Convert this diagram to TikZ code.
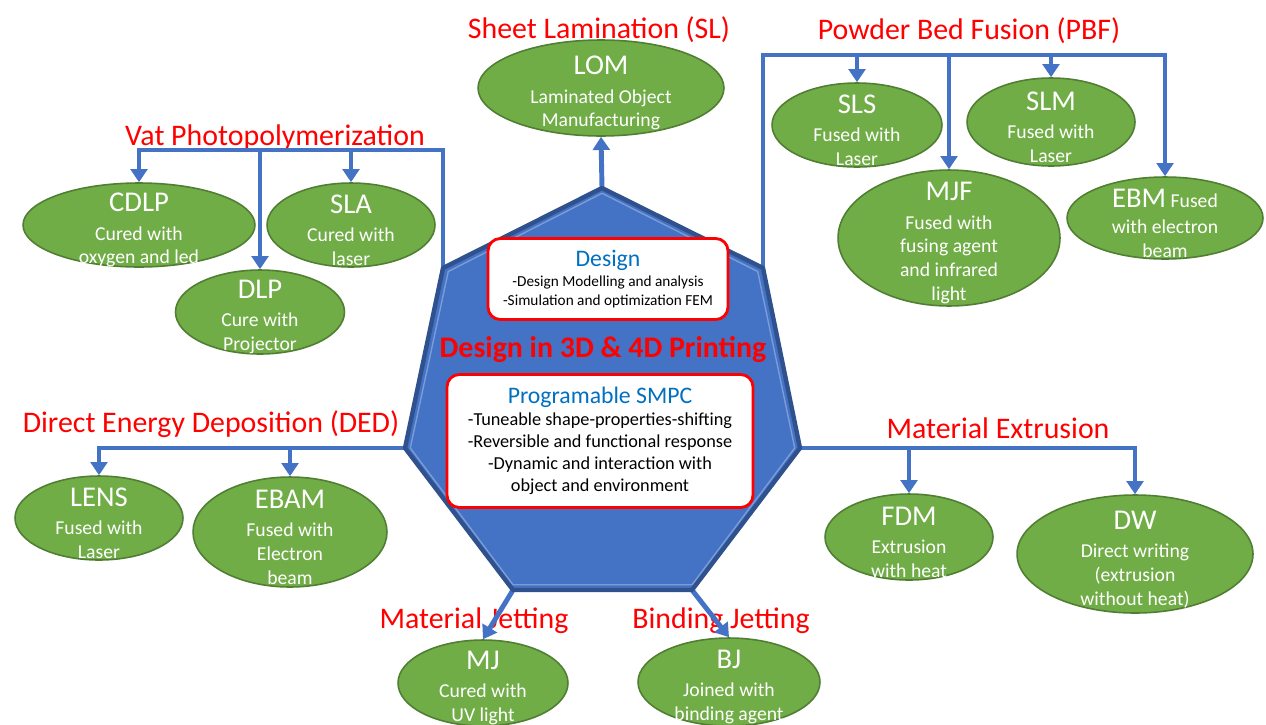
\documentclass[tikz,border=0pt]{standalone}
\usepackage{fontspec}
\setmainfont{Carlito}
\usetikzlibrary{arrows.meta,shapes.geometric,positioning}

\definecolor{hexblue}{RGB}{68,114,196}
\definecolor{hexedge}{RGB}{47,82,143}
\definecolor{leafgreen}{RGB}{112,173,71}
\definecolor{leafedge}{RGB}{80,126,50}
\definecolor{headblue}{RGB}{0,112,192}

\tikzset{
  tech/.style={ellipse, draw=leafedge, line width=0.9pt, fill=leafgreen, inner sep=0pt},
  techtext/.style={text=white, align=center, yshift=-3pt, font=\fontsize{11.2}{13.6}\selectfont},
  family/.style={text=red, font=\fontsize{17}{20}\selectfont, anchor=base},
  link/.style={draw=hexblue, line width=2.8pt},
  feed/.style={link, -{Triangle[width=9.5pt,length=7.5pt]}},
  infobox/.style={draw=red, line width=1.6pt, fill=white, rounded corners=7pt, align=center, inner sep=2pt},
}
\newcommand{\techname}[1]{{\fontsize{16.3}{18}\selectfont #1}\\[2.5pt]}

\begin{document}
\begin{tikzpicture}[x=0.02cm, y=-0.02cm]
  \useasboundingbox (0,0) rectangle (1266,724);
  \clip (0,0) rectangle (1266,724);

  % corners of the central heptagon
  \coordinate (hT) at (602,188);
  \coordinate (hUL) at (443,268);
  \coordinate (hUR) at (763,268);
  \coordinate (hL) at (405,448);
  \coordinate (hR) at (800,448);
  \coordinate (hBL) at (513,590);
  \coordinate (hBR) at (692,590);
  \coordinate (vatbar) at (443,150);
  \coordinate (pbfbar) at (763,55);

  % process families
  \node[family] (sltitle) at (599,38) {Sheet Lamination (SL)};
  \node[family] (vattitle) at (275,145) {Vat Photopolymerization};
  \node[family] (pbftitle) at (969,39) {Powder Bed Fusion (PBF)};
  \node[family] (dedtitle) at (211,432) {Direct Energy Deposition (DED)};
  \node[family] (metitle) at (998,438) {Material Extrusion};
  \node[family] (mjtitle) at (474,628) {Material Jetting};
  \node[family] (bjtitle) at (721,628) {Binding Jetting};

  % technologies
  \node[tech, minimum width=4.92cm, minimum height=1.92cm] (lom) at (601,88) {};
  \node[tech, minimum width=4.64cm, minimum height=1.68cm] (cdlp) at (139,225) {};
  \node[tech, minimum width=3.36cm, minimum height=1.68cm] (sla) at (351,225) {};
  \node[tech, minimum width=3.38cm, minimum height=1.68cm] (dlp) at (260,312) {};
  \node[tech, minimum width=3.40cm, minimum height=1.68cm] (sls) at (857,125) {};
  \node[tech, minimum width=3.36cm, minimum height=1.76cm] (slm) at (1051,122) {};
  \node[tech, minimum width=4.44cm, minimum height=2.72cm] (mjf) at (949,238) {};
  \node[tech, minimum width=3.92cm, minimum height=1.64cm] (ebm) at (1165,218) {};
  \node[tech, minimum width=3.36cm, minimum height=1.68cm] (lens) at (99,518) {};
  \node[tech, minimum width=3.88cm, minimum height=2.20cm] (ebam) at (290,532) {};
  \node[tech, minimum width=3.36cm, minimum height=1.72cm] (fdm) at (909,537) {};
  \node[tech, minimum width=4.72cm, minimum height=2.36cm] (dw) at (1135,554) {};
  \node[tech, minimum width=3.40cm, minimum height=1.72cm] (mj) at (483,683) {};
  \node[tech, minimum width=3.64cm, minimum height=1.76cm] (bj) at (729,682) {};

  \node[techtext] (lomtxt) at (lom) {\techname{LOM}Laminated Object\\Manufacturing};
  \node[techtext] (cdlptxt) at (cdlp) {\techname{CDLP}Cured with\\oxygen and led};
  \node[techtext] (slatxt) at (sla) {\techname{SLA}Cured with\\laser};
  \node[techtext] (dlptxt) at (dlp) {\techname{DLP}Cure with\\Projector};
  \node[techtext] (slstxt) at (sls) {\techname{SLS}Fused with\\Laser};
  \node[techtext] (slmtxt) at (slm) {\techname{SLM}Fused with\\Laser};
  \node[techtext] (mjftxt) at (mjf) {\techname{MJF}Fused with\\fusing agent\\and infrared\\light};
  \node[techtext] (ebmtxt) at (ebm) {{\fontsize{16.3}{18}\selectfont EBM} Fused\\[1pt]with electron\\beam};
  \node[techtext] (lenstxt) at (lens) {\techname{LENS}Fused with\\Laser};
  \node[techtext] (ebamtxt) at (ebam) {\techname{EBAM}Fused with\\Electron\\beam};
  \node[techtext] (fdmtxt) at (fdm) {\techname{FDM}Extrusion\\with heat};
  \node[techtext] (dwtxt) at (dw) {\techname{DW}Direct writing\\(extrusion\\without heat)};
  \node[techtext] (mjtxt) at (mj) {\techname{MJ}Cured with\\UV light};
  \node[techtext] (bjtxt) at (bj) {\techname{BJ}Joined with\\binding agent};

  % connectors
  \draw[feed] (hT) -- (lom.south);
  \draw[feed] (hUL) -- (vatbar) -| (cdlp.north);
  \draw[feed] (vatbar -| dlp.north) -- (dlp.north);
  \draw[feed] (vatbar -| sla.north) -- (sla.north);
  \draw[feed] (hUR) -- (pbfbar) -| (ebm.north);
  \draw[feed] (pbfbar -| sls.north) -- (sls.north);
  \draw[feed] (pbfbar -| mjf.north) -- (mjf.north);
  \draw[feed] (pbfbar -| slm.north) -- (slm.north);
  \draw[feed] (hL) -| (lens.north);
  \draw[feed] (hL -| ebam.north) -- (ebam.north);
  \draw[feed] (hR) -| (dw.north);
  \draw[feed] (hR -| fdm.north) -- (fdm.north);
  \draw[feed] (hBL) -- (mj.north);
  \draw[feed] (hBR) -- (bj.north);

  % central heptagon
  \filldraw[fill=hexblue, draw=hexedge, line width=2.5pt, line join=round]
    (hT) -- (hUR) -- (hR) -- (hBR) -- (hBL) -- (hL) -- (hUL) -- cycle;
  \draw[hexblue!70!white, line width=0.8pt]
    ([yshift=-3pt]hT) -- ([xshift=-3pt,yshift=-2pt]hUR) -- ([xshift=-3pt]hR)
    -- ([yshift=3pt]hBR) -- ([yshift=3pt]hBL) -- ([xshift=3pt]hL)
    -- ([xshift=3pt,yshift=-2pt]hUL) -- cycle;

  \node[infobox, minimum width=4.8cm, minimum height=1.62cm, font=\fontsize{8.7}{10.4}\selectfont] (design) at (608,279)
    {{\color{headblue}\fontsize{13.5}{15}\selectfont Design}\\[1pt]-Design Modelling and analysis\\-Simulation and optimization FEM};
  \node[text=red, font=\bfseries\fontsize{17}{20}\selectfont, anchor=base] (core) at (603,357) {Design in 3D \& 4D Printing};
  \node[infobox, minimum width=6.12cm, minimum height=2.66cm, font=\fontsize{10.4}{12.5}\selectfont] (smpc) at (600,441)
    {{\color{headblue}\fontsize{13.5}{15}\selectfont Programable SMPC}\\-Tuneable shape-properties-shifting\\-Reversible and functional response\\-Dynamic and interaction with\\object and environment};
\end{tikzpicture}
\end{document}
